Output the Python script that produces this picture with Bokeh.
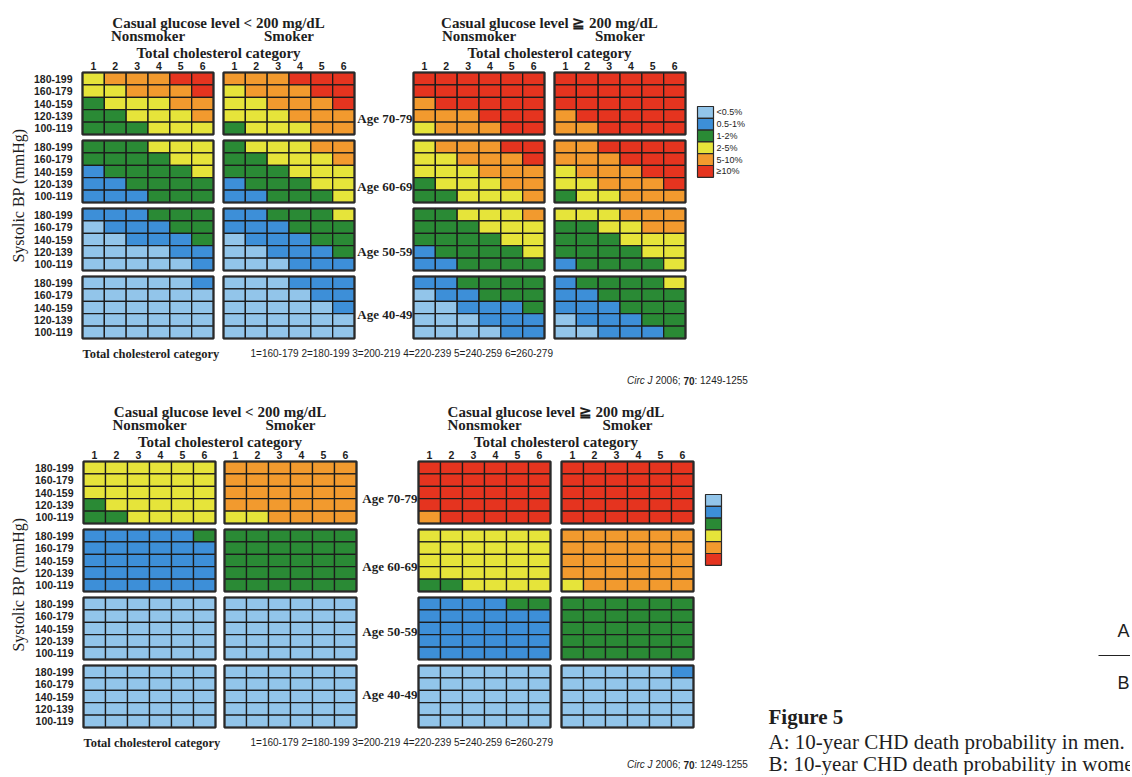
import numpy as np
from bokeh.plotting import figure
from bokeh.models import Range1d, ColumnDataSource
from bokeh.embed import file_html
from bokeh.resources import INLINE
from bokeh.core.properties import value

# ---------------- data ----------------
RISK_LABELS = ["<0.5%", "0.5-1%", "1-2%", "2-5%", "5-10%", "\u226510%"]
RISK_COLORS = ["#92C5EA", "#3D8FD8", "#2A8A35", "#E6E43A", "#F29A2E", "#E5341F"]
SBP_LABELS = ["180-199", "160-179", "140-159", "120-139", "100-119"]
AGE_LABELS = ["Age 70-79", "Age 60-69", "Age 50-59", "Age 40-49"]
CHOL_CATS = ["1", "2", "3", "4", "5", "6"]
CHOL_KEY = "1=160-179 2=180-199 3=200-219 4=220-239 5=240-259 6=260-279"
GLUCOSE_HEADERS = ["Casual glucose level < 200 mg/dL", "Casual glucose level \u2267 200 mg/dL"]
SMOKE_HEADERS = ["Nonsmoker", "Smoker"]

# risk category codes (0..5); per age block (70-79, 60-69, 50-59, 40-49),
# rows SBP 180-199 (top) .. 100-119 (bottom), columns cholesterol 1..6
MEN_LOW_NONSMOKER = [
    ["344455", "334445", "233344", "223334", "222333"],
    ["222333", "222233", "122223", "112222", "111222"],
    ["111222", "011122", "001112", "000011", "000001"],
    ["000001", "000000", "000000", "000000", "000000"],
]
MEN_LOW_SMOKER = [
    ["444555", "344455", "334445", "333444", "233344"],
    ["233344", "223334", "222333", "122233", "112223"],
    ["112223", "111222", "011122", "001112", "000111"],
    ["000111", "000011", "000001", "000000", "000000"],
]
MEN_HIGH_NONSMOKER = [
    ["555555", "555555", "455555", "444555", "344455"],
    ["344455", "334445", "333444", "233344", "223334"],
    ["223334", "222333", "222233", "122223", "112222"],
    ["112222", "011222", "001112", "000111", "000011"],
]
MEN_HIGH_SMOKER = [
    ["555555", "555555", "555555", "455555", "445555"],
    ["445555", "444555", "344455", "334445", "233444"],
    ["333444", "223344", "222333", "222233", "122223"],
    ["122223", "112222", "111222", "011122", "001112"],
]
WOMEN_LOW_NONSMOKER = [
    ["333333", "333333", "333333", "233333", "223333"],
    ["111112", "111111", "111111", "111111", "111111"],
    ["000000", "000000", "000000", "000000", "000000"],
    ["000000", "000000", "000000", "000000", "000000"],
]
WOMEN_LOW_SMOKER = [
    ["444444", "444444", "444444", "444444", "334444"],
    ["222222", "222222", "222222", "222222", "222222"],
    ["000000", "000000", "000000", "000000", "000000"],
    ["000000", "000000", "000000", "000000", "000000"],
]
WOMEN_HIGH_NONSMOKER = [
    ["555555", "555555", "555555", "555555", "455555"],
    ["333333", "333333", "333333", "333333", "223333"],
    ["111122", "111111", "111111", "111111", "111111"],
    ["000000", "000000", "000000", "000000", "000000"],
]
WOMEN_HIGH_SMOKER = [
    ["555555", "555555", "555555", "555555", "555555"],
    ["444444", "444444", "444444", "444444", "344444"],
    ["222222", "222222", "222222", "222222", "222222"],
    ["000001", "000000", "000000", "000000", "000000"],
]

# ---------------- figure ----------------
W, H = 1130, 775
p = figure(width=W, height=H, x_range=Range1d(0, W), y_range=Range1d(H, 0),
           output_backend="svg", toolbar_location=None, min_border=0,
           x_axis_location=None, y_axis_location=None)
p.grid.visible = False
p.outline_line_color = None
p.background_fill_color = "white"
p.border_fill_color = "white"

SERIF = value("Liberation Serif")
SANS = value("Liberation Sans")
TXT = "#1e1e1e"


def txt(x, y, t, font=SERIF, size="14px", style="normal", align="center", angle=0.0,
        baseline="middle", color=TXT):
    p.text(x=x, y=y, text=t, text_font=font, text_font_size=size, text_font_style=style,
           text_align=align, text_baseline=baseline, angle=angle, text_color=color)


def citation(x, y):
    txt([x], [y], ["Circ J"], font=SANS, size="10px", style="italic", align="right")
    txt([x + 3], [y], ["2006;"], font=SANS, size="10px", align="left")
    txt([x + 31], [y], ["70"], font=SANS, size="10px", style="bold", align="left")
    txt([x + 42], [y], [": 1249-1255"], font=SANS, size="10px", align="left")


def draw_panel(grids, top, xs, gw, age_frac, legend_x, legend_top, legend_labels, cite_y):
    bh, step = 62.0, 68.0
    rh = bh / len(SBP_LABELS)
    cw = gw / len(CHOL_CATS)
    L, R, T, B, C = [], [], [], [], []
    oL, oR, oT, oB = [], [], [], []
    for g, blocks in enumerate(grids):
        for a, rows in enumerate(blocks):
            bt = top + a * step
            oL.append(xs[g]); oR.append(xs[g] + gw); oT.append(bt); oB.append(bt + bh)
            for r, row in enumerate(rows):
                for c, code in enumerate(row):
                    L.append(xs[g] + c * cw); R.append(xs[g] + (c + 1) * cw)
                    T.append(bt + r * rh); B.append(bt + (r + 1) * rh)
                    C.append(RISK_COLORS[int(code)])
    src = ColumnDataSource(dict(left=L, right=R, top=T, bottom=B, color=C))
    p.quad(left="left", right="right", top="top", bottom="bottom", fill_color="color",
           line_color="#1c1c1c", line_width=1.3, source=src)
    p.quad(left=oL, right=oR, top=oT, bottom=oB, fill_color=None,
           line_color="#2a2a2a", line_width=2.2)

    # headers
    for k in range(2):
        cx = (xs[2 * k] + xs[2 * k + 1] + gw) / 2.0
        txt([cx], [top - 50], [GLUCOSE_HEADERS[k]], size="15px", style="bold")
        txt([cx], [top - 20], ["Total cholesterol category"], size="15px", style="bold")
    for g in range(4):
        txt([xs[g] + gw / 2.0], [top - 37], [SMOKE_HEADERS[g % 2]], size="15px", style="bold")
        txt([xs[g] + (c + 0.5) * cw for c in range(6)], [top - 7] * 6, CHOL_CATS,
            font=SANS, size="10.5px", style="bold")

    # SBP row labels (left side only)
    ys, labs = [], []
    for a in range(4):
        for r, lab in enumerate(SBP_LABELS):
            ys.append(top + a * step + (r + 0.5) * rh)
            labs.append(lab)
    txt([xs[0] - 10] * len(ys), ys, labs, font=SANS, size="10.5px", style="bold", align="right")

    # age labels
    txt([xs[2] - 1] * 4, [top + a * step + age_frac[a] * bh for a in range(4)], AGE_LABELS,
        size="13px", style="bold", align="right")

    # y-axis title
    txt([18], [top + 123], ["Systolic BP (mmHg)"], size="16px", angle=np.pi / 2)

    # footer
    txt([xs[0]], [top + 281], ["Total cholesterol category"], size="12.5px", style="bold", align="left")
    txt([250], [top + 281], [CHOL_KEY], font=SANS, size="10px", align="left")
    citation(652, cite_y)

    # legend
    sh = 11.8
    p.quad(left=[legend_x] * 6, right=[legend_x + 16] * 6,
           top=[legend_top + i * sh for i in range(6)],
           bottom=[legend_top + (i + 1) * sh for i in range(6)],
           fill_color=RISK_COLORS, line_color="#2a2a2a", line_width=1.2)
    if legend_labels:
        txt([legend_x + 19] * 6, [legend_top + (i + 0.5) * sh for i in range(6)], RISK_LABELS,
            font=SANS, size="9px", align="left")


draw_panel([MEN_LOW_NONSMOKER, MEN_LOW_SMOKER, MEN_HIGH_NONSMOKER, MEN_HIGH_SMOKER],
           top=72, xs=[82, 223, 413, 554], gw=131, age_frac=[0.74, 0.74, 0.70, 0.62],
           legend_x=697, legend_top=106, legend_labels=True, cite_y=380)
draw_panel([WOMEN_LOW_NONSMOKER, WOMEN_LOW_SMOKER, WOMEN_HIGH_NONSMOKER, WOMEN_HIGH_SMOKER],
           top=461, xs=[83, 224, 418, 561], gw=132, age_frac=[0.59, 0.60, 0.55, 0.47],
           legend_x=705, legend_top=494, legend_labels=False, cite_y=764)

# right-hand caption
txt([1123], [630], ["A"], font=SANS, size="18px")
p.segment(x0=[1098], y0=[655], x1=[1140], y1=[655], line_color="#222", line_width=1.2)
txt([1123], [682], ["B"], font=SANS, size="18px")
txt([768], [716], ["Figure 5"], size="21px", style="bold", align="left")
txt([768], [741], ["A: 10-year CHD death probability in men."], size="21px", align="left")
txt([768], [763], ["B: 10-year CHD death probability in women."], size="21px", align="left")

open("out.html", "w").write(file_html(p, INLINE))
